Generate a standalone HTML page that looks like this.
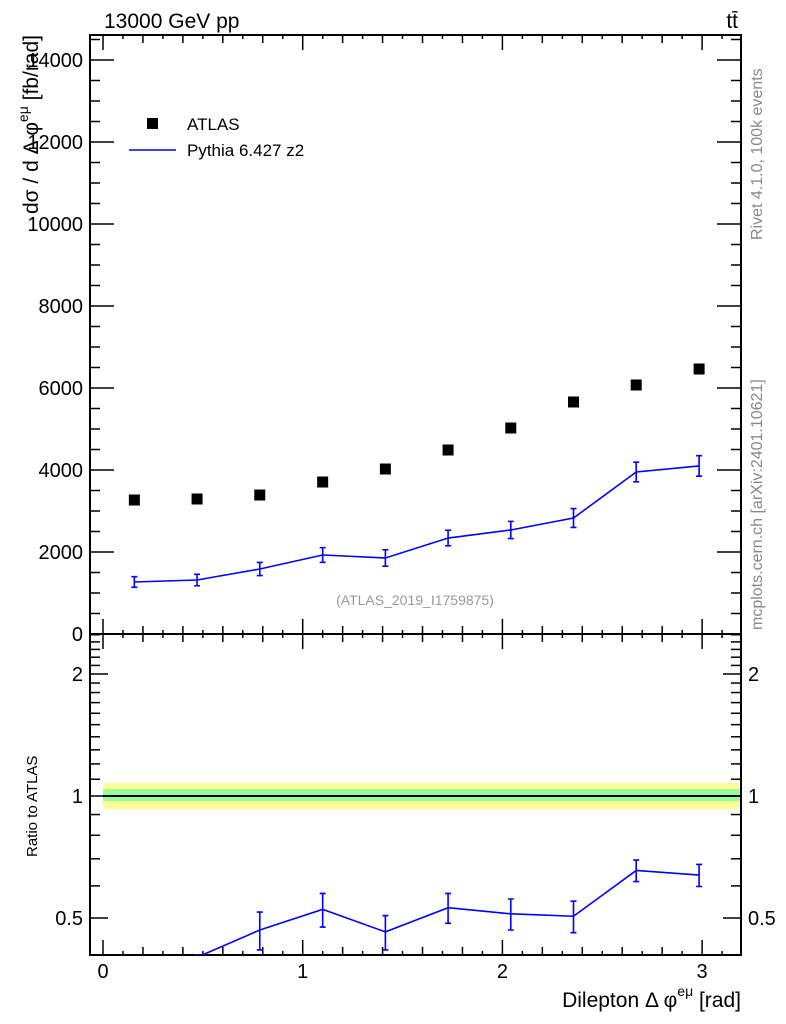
<!DOCTYPE html>
<html><head><meta charset="utf-8"><style>
body{margin:0;background:#fff}
svg{display:block;font-family:"Liberation Sans",sans-serif}
</style></head><body>
<svg id="c" width="786" height="1024" viewBox="0 0 786 1024"></svg>
<script>
const binCenters=[0.157,0.471,0.785,1.100,1.414,1.728,2.042,2.356,2.670,2.985];
const atlasValues=[3268,3293,3390,3707,4024,4488,5024,5659,6073,6463];
const pythiaValues=[1268,1317,1585,1927,1854,2341,2537,2829,3951,4098];
const pythiaErrors=[130,140,160,180,200,190,210,230,240,250];
const ratioValues=[0.37,0.40,0.467,0.525,0.462,0.53,0.512,0.505,0.655,0.638];
const ratioErrLow=[0.02,0.005,0.05,0.05,0.045,0.045,0.045,0.045,0.04,0.04];
const yTicks=[0,2000,4000,6000,8000,10000,12000,14000];
const yTickLabels=["0","2000","4000","6000","8000","10000","12000","14000"];
const xTicks=[0,1,2,3];
const rTicks=[0.5,1,2];

const NS="http://www.w3.org/2000/svg",svg=document.getElementById('c');
function mk(t,a,p){const e=document.createElementNS(NS,t);for(const k in a)e.setAttribute(k,a[k]);(p||svg).appendChild(e);return e;}
const L=90,R=741,T=35,M=634,B=955;
const X=v=>103+v*199.7;
const Y=v=>634-v*0.041;
const RY=v=>796-176*Math.log(v);

// bands
let b=mk('rect',{x:103,y:783,width:R-103,height:26,fill:'#ffff99'});
b=mk('rect',{x:103,y:789,width:R-103,height:12,fill:'#99ff99'});
b=mk('line',{x1:103,x2:R,y1:RY(1),y2:RY(1),stroke:'#000','stroke-width':2});

// frames
let f=mk('rect',{x:L,y:T,width:R-L,height:M-T,fill:'none',stroke:'#000','stroke-width':2});

f=mk('rect',{x:L,y:M,width:R-L,height:B-M,fill:'none',stroke:'#000','stroke-width':2});


// x ticks
for(let i=0;i<=31;i++){const v=i/10,x=X(v);const len=i%10==0?15:(i%2==0?8:4);
 [[M,-1],[B,-1],[T,1],[M,1]].forEach(([y0,d])=>{const l=mk('line',{x1:x,x2:x,y1:y0,y2:y0+d*len,stroke:'#000','stroke-width':1.5});
 });}
xTicks.forEach(v=>{const t=mk('text',{x:X(v),y:978,'font-size':20,'text-anchor':'middle'});t.textContent=v;
 });

// y ticks main
for(let v=0;v<=14500;v+=500){const y=Y(v);if(y<T)break;const len=v%2000==0?24:10;
 [[L,1],[R,-1]].forEach(([x0,d])=>{const l=mk('line',{x1:x0,x2:x0+d*len,y1:y,y2:y,stroke:'#000','stroke-width':1.5});
 });}
yTicks.forEach((v,i)=>{const t=mk('text',{x:83,y:Y(v)+7,'font-size':20,'text-anchor':'end'});t.textContent=yTickLabels[i];
 });

// ratio ticks
[0.5,0.6,0.7,0.8,0.9,1,1.1,1.2,1.3,1.4,1.5,1.6,1.7,1.8,1.9,2,2.1,2.2,2.3,2.4,2.5].forEach(v=>{const y=RY(v);if(y<M||y>B)return;
 const maj=rTicks.includes(v),len=maj?18:10;
 [[L,1],[R,-1]].forEach(([x0,d])=>{const l=mk('line',{x1:x0,x2:x0+d*len,y1:y,y2:y,stroke:'#000','stroke-width':1.5});
 });});
rTicks.forEach(v=>{[[83,'end'],[748,'start']].forEach(([x,a])=>{const t=mk('text',{x:x,y:RY(v)+7,'font-size':20,'text-anchor':a});t.textContent=v;
 });});

// atlas points
binCenters.forEach((c,i)=>{const r=mk('rect',{x:X(c)-5.5,y:Y(atlasValues[i])-5.5,width:11,height:11,fill:'#000'});
 });

// pythia main
let p=mk('polyline',{points:binCenters.map((c,i)=>X(c)+','+Y(pythiaValues[i])).join(' '),fill:'none',stroke:'#00f','stroke-width':1.6});

binCenters.forEach((c,i)=>{const x=X(c),y1=Y(pythiaValues[i]-pythiaErrors[i]),y2=Y(pythiaValues[i]+pythiaErrors[i]);
 const g=mk('path',{d:`M${x},${y1}V${y2}M${x-3},${y1}H${x+3}M${x-3},${y2}H${x+3}`,stroke:'#00f','stroke-width':1.6,fill:'none'});
 });

// pythia ratio (clipped)
const cp=mk('clipPath',{id:'rc'});mk('rect',{x:L,y:M,width:R-L,height:B-M},cp);
const rg=mk('g',{'clip-path':'url(#rc)'});
p=mk('polyline',{points:binCenters.map((c,i)=>X(c)+','+RY(ratioValues[i])).join(' '),fill:'none',stroke:'#00f','stroke-width':1.6},rg);

binCenters.forEach((c,i)=>{const x=X(c),y1=RY(ratioValues[i]-ratioErrLow[i]),y2=RY(ratioValues[i]+ratioErrLow[i]);
 const g=mk('path',{d:`M${x},${y1}V${y2}M${x-3},${y1}H${x+3}M${x-3},${y2}H${x+3}`,stroke:'#00f','stroke-width':1.6,fill:'none'},rg);
 });

// texts
function txt(s,a,name){const t=mk('text',a);t.textContent=s;return t;}
txt('13000 GeV pp',{x:104,y:28,'font-size':21},'energy-label');
txt('tt̄',{x:738,y:28,'font-size':21,'text-anchor':'end'},'process-label');
txt('Rivet 4.1.0,  100k events',{x:0,y:0,'font-size':16,fill:'#888',transform:'translate(762,240) rotate(-90)'},'rivet-label');
txt('mcplots.cern.ch [arXiv:2401.10621]',{x:0,y:0,'font-size':16,fill:'#888',transform:'translate(762,630) rotate(-90)'},'mcplots-label');
txt('(ATLAS_2019_I1759875)',{x:415,y:605,'font-size':14,fill:'#999','text-anchor':'middle'},'analysis-label');
const yt=txt('',{x:0,y:0,'font-size':21,'text-anchor':'end',transform:'translate(38,35) rotate(-90)'},'y-axis-title');
yt.innerHTML='dσ / d Δ φ<tspan dy="-10" font-size="14">eμ</tspan><tspan dy="10"> [fb/rad]</tspan>';
txt('Ratio to ATLAS',{x:0,y:0,'font-size':15,'text-anchor':'start',transform:'translate(37,857) rotate(-90)'},'ratio-axis-title');
const xt=txt('',{x:741,y:1007,'font-size':21,'text-anchor':'end'},'x-axis-title');
xt.innerHTML='Dilepton Δ φ<tspan dy="-11" font-size="14">eμ</tspan><tspan dy="11"> [rad]</tspan>';

// legend
let lr=mk('rect',{x:147,y:118,width:11,height:11,fill:'#000'});
txt('ATLAS',{x:187,y:130,'font-size':17},'legend-atlas-label');
lr=mk('line',{x1:129,x2:176,y1:150,y2:150,stroke:'#00f','stroke-width':1.6});
txt('Pythia 6.427 z2',{x:187,y:156,'font-size':17},'legend-pythia-label');
</script>
</body></html>
